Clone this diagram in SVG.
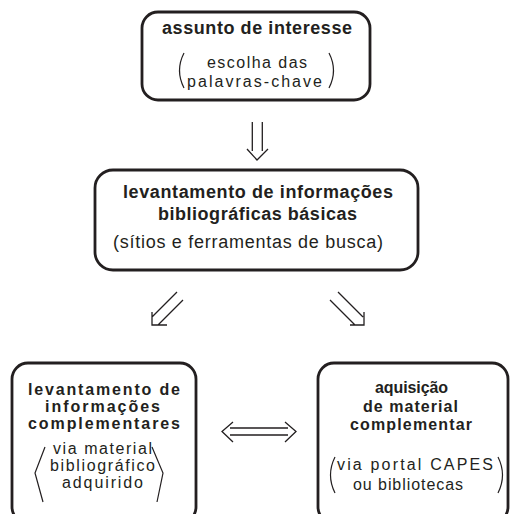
<svg xmlns="http://www.w3.org/2000/svg" width="510" height="514" viewBox="0 0 510 514">
<style>
.box{fill:#fff;stroke:#231f20;stroke-width:2.8}
.ln{fill:none;stroke:#231f20;stroke-width:1.3}
.br{fill:none;stroke:#231f20;stroke-width:1.2}
text{font-family:"Liberation Sans",Arial,sans-serif;fill:#231f20}
.b{font-weight:bold;font-size:18px}
.n{font-size:18px}
.bs{font-weight:bold;font-size:16px}
.ns{font-size:16px}
</style>
<rect width="510" height="514" fill="#fff"/>
<g id="n1">
<rect class="box" x="142" y="12" width="228" height="88" rx="16"/>
<text class="b" x="162" y="34" textLength="190" lengthAdjust="spacing">assunto de interesse</text>
<text class="ns" x="207" y="68" textLength="100" lengthAdjust="spacing">escolha das</text>
<text class="ns" x="187" y="87" textLength="135" lengthAdjust="spacing">palavras-chave</text>
<path class="br" d="M184,53 Q175,70.5 184,88"/>
<path class="br" d="M329,53 Q338,70.5 329,88"/>
</g>
<g id="n2">
<rect class="box" x="95" y="170" width="323" height="100" rx="18"/>
<text class="b" x="123" y="198" textLength="270" lengthAdjust="spacing">levantamento de informações</text>
<text class="b" x="158" y="220" textLength="199" lengthAdjust="spacing">bibliográficas básicas</text>
<text class="n" x="113" y="248" textLength="270" lengthAdjust="spacing">(sítios e ferramentas de busca)</text>
</g>
<g id="n3">
<rect class="box" x="12" y="363" width="184" height="160" rx="16"/>
<text class="bs" x="28" y="395" textLength="152" lengthAdjust="spacing">levantamento de</text>
<text class="bs" x="45" y="412" textLength="115" lengthAdjust="spacing">informações</text>
<text class="bs" x="28" y="429" textLength="152" lengthAdjust="spacing">complementares</text>
<text class="ns" x="53" y="454" textLength="99" lengthAdjust="spacing">via material</text>
<text class="ns" x="50" y="471" textLength="105" lengthAdjust="spacing">bibliográfico</text>
<text class="ns" x="62" y="488" textLength="81" lengthAdjust="spacing">adquirido</text>
<path class="br" d="M45,447 L35,473 L43,502"/>
<path class="br" d="M152,447 L163,473 L157,502"/>
</g>
<g id="n4">
<rect class="box" x="318" y="363" width="190" height="160" rx="16"/>
<text class="bs" x="375" y="393" textLength="73" lengthAdjust="spacing">aquisição</text>
<text class="bs" x="363" y="412" textLength="95" lengthAdjust="spacing">de material</text>
<text class="bs" x="350" y="430" textLength="122" lengthAdjust="spacing">complementar</text>
<text class="ns" x="337" y="470" textLength="156" lengthAdjust="spacing">via portal CAPES</text>
<text class="ns" x="353" y="490" textLength="110" lengthAdjust="spacing">ou bibliotecas</text>
<path class="br" d="M335,457 Q326,475 335,493"/>
<path class="br" d="M498,457 Q507,475 498,493"/>
</g>
<g id="connectors">
<path class="ln" d="M252.3,122 V151 M262.3,122 V151 M247,149 L257,160 L268,149"/>
<path class="ln" d="M177,292 L152,317 M183,300 L158,325 M152,312 V325 H167"/>
<path class="ln" d="M338,292 L363,317 M330,300 L355,325 M364,312 V325 H350"/>
<path class="ln" d="M230,428 H288 M230,435 H288 M233,422 L222,431.5 L233,442 M285,422 L296,431.5 L285,442"/>
</g>
</svg>
